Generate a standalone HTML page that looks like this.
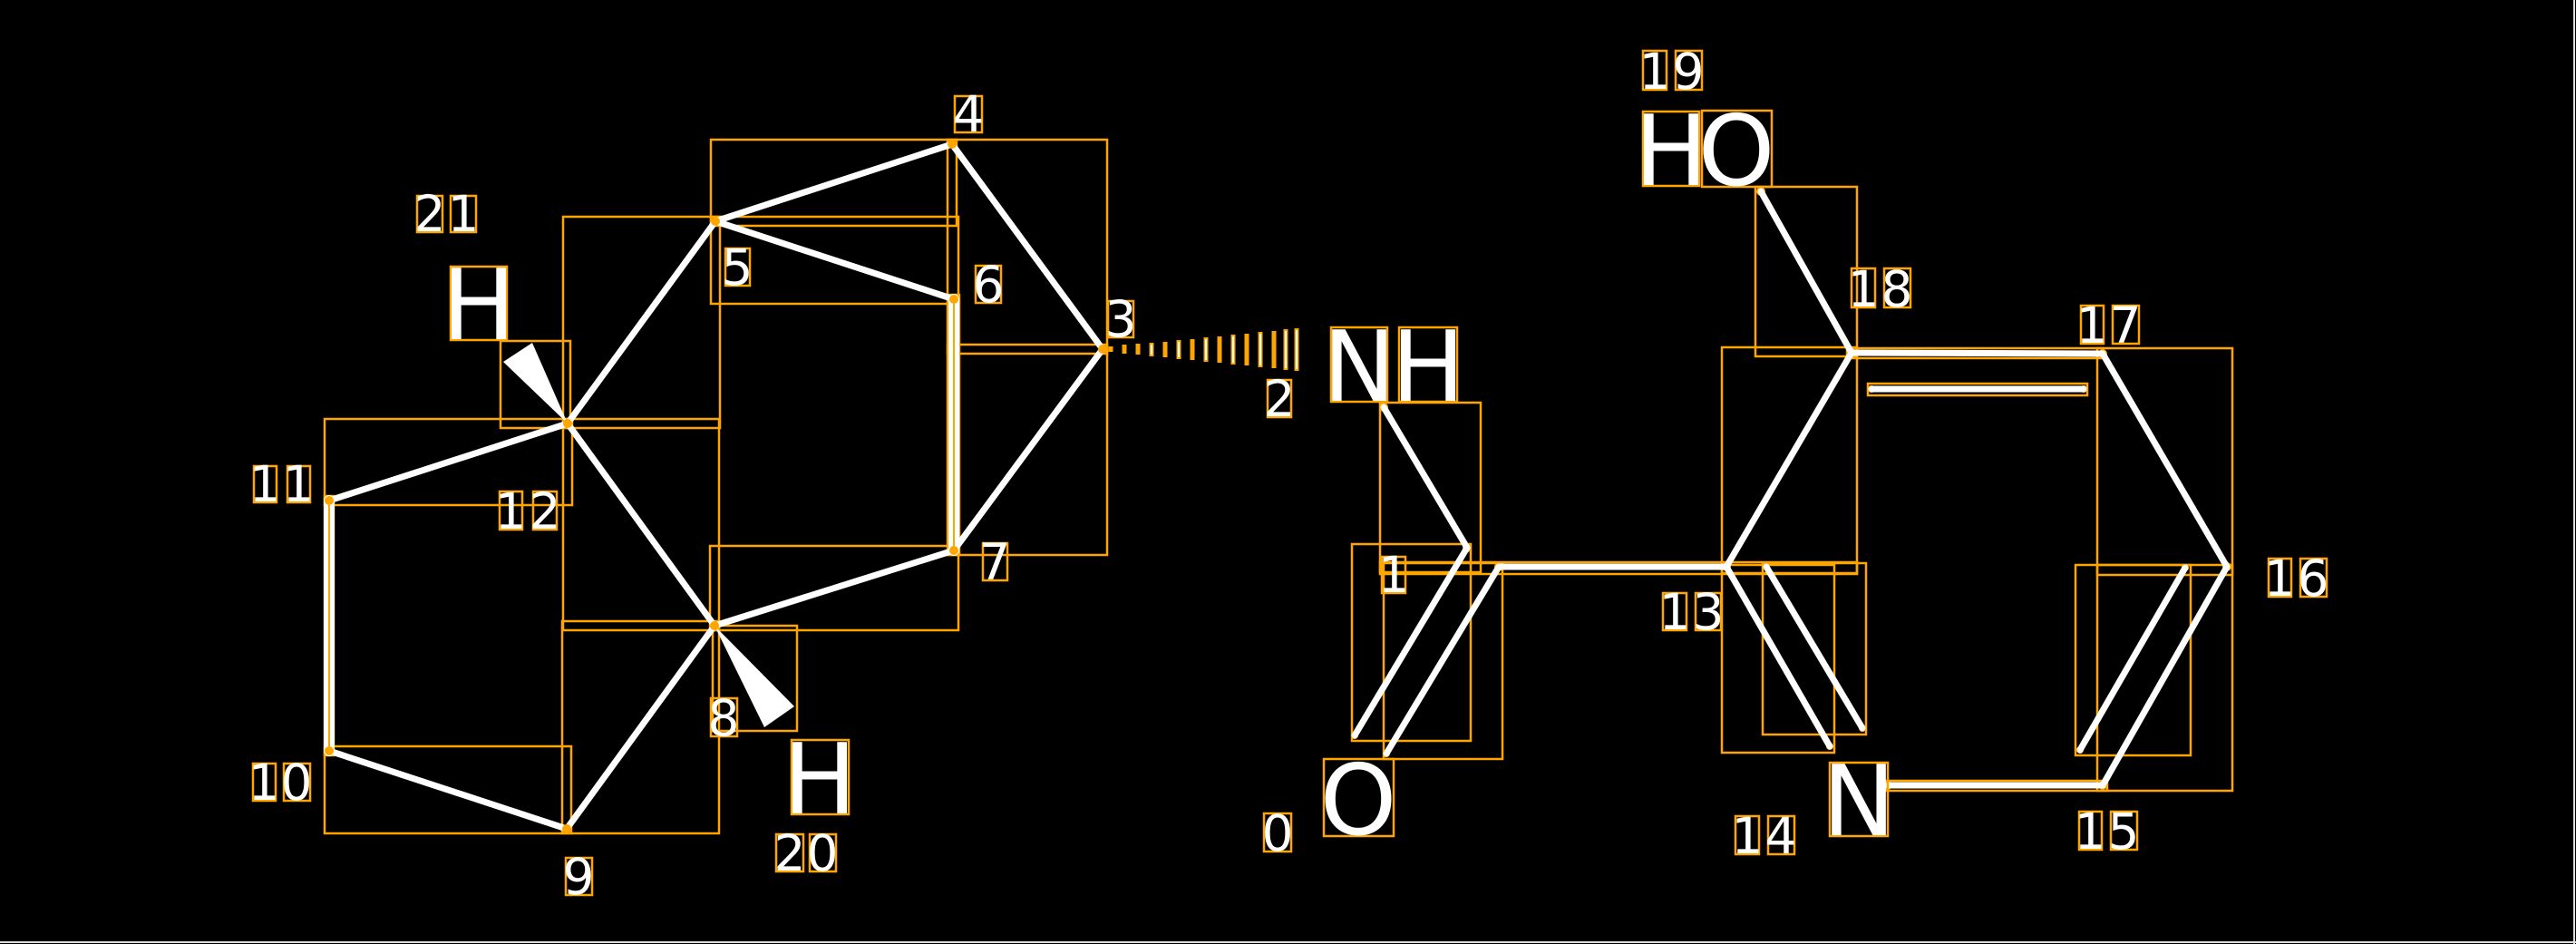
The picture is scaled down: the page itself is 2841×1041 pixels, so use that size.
<!DOCTYPE html>
<html><head><meta charset="utf-8"><style>
html,body{margin:0;padding:0;background:#000;}
svg{display:block;}
text{font-family:"DejaVu Sans","Liberation Sans",sans-serif;fill:#fff;}
.b{stroke:#fff;stroke-width:7;stroke-linecap:round;fill:none;}
.r{fill:none;stroke:#FFA500;stroke-width:2.5;}
.d{font-size:55px;text-anchor:middle;}
.a{font-size:108px;text-anchor:middle;}
.n{fill:#FFA500;}
</style></head><body>
<svg width="2841" height="1041" viewBox="0 0 2841 1041" xmlns="http://www.w3.org/2000/svg">
<rect x="0" y="0" width="2841" height="1041" fill="#000"/>
<line x1="0" y1="1039" x2="2841" y2="1039" stroke="#ddd" stroke-width="2"/>
<line x1="2839" y1="0" x2="2839" y2="1041" stroke="#ddd" stroke-width="2"/>
<g class="r">
<rect x="784" y="154" width="271" height="95"/>
<rect x="784" y="239" width="273" height="96"/>
<rect x="1045" y="154" width="176" height="236"/>
<rect x="1045" y="380" width="176" height="232"/>
<rect x="1046" y="325" width="12" height="287"/>
<rect x="621" y="239" width="173" height="233"/>
<rect x="358" y="462" width="273" height="95"/>
<rect x="621" y="462" width="172" height="233"/>
<rect x="783" y="602" width="274" height="93"/>
<rect x="620" y="685" width="173" height="234"/>
<rect x="358" y="547" width="10" height="286"/>
<rect x="358" y="823" width="272" height="96"/>
<rect x="552" y="376" width="77" height="96"/>
<rect x="786" y="690" width="93" height="116"/>
</g>
<g class="b">
<line x1="1050" y1="159" x2="789" y2="244"/>
<line x1="789" y1="244" x2="1052" y2="330"/>
<line x1="1050" y1="159" x2="1216" y2="385"/>
<line x1="1216" y1="385" x2="1052" y2="607"/>
<line x1="1052" y1="330" x2="1052" y2="607" stroke-width="12"/>
<line x1="789" y1="244" x2="626" y2="467"/>
<line x1="626" y1="467" x2="363" y2="552"/>
<line x1="626" y1="467" x2="788" y2="690"/>
<line x1="788" y1="690" x2="1052" y2="607"/>
<line x1="788" y1="690" x2="625" y2="914"/>
<line x1="363" y1="552" x2="363" y2="828" stroke-width="12"/>
<line x1="363" y1="828" x2="625" y2="914"/>
</g>
<line x1="1052" y1="335" x2="1052" y2="602" stroke="#FFA500" stroke-width="2"/>
<line x1="363" y1="557" x2="363" y2="823" stroke="#FFA500" stroke-width="2"/>
<polygon points="626,467 555,399 587,378" fill="#fff"/>
<polygon points="788,690 843,802 876,779" fill="#fff"/>
<g class="n">
<circle cx="1050" cy="159" r="5"/><circle cx="789" cy="244" r="5"/><circle cx="1052" cy="330" r="5"/><circle cx="1216" cy="385" r="5"/><circle cx="1052" cy="607" r="5"/><circle cx="626" cy="467" r="5"/><circle cx="788" cy="690" r="5"/><circle cx="363" cy="552" r="5"/><circle cx="363" cy="828" r="5"/><circle cx="625" cy="914" r="5"/>
<circle cx="1526" cy="449" r="5"/><circle cx="1618" cy="604" r="5"/><circle cx="1653" cy="625" r="5"/><circle cx="1904" cy="625" r="5"/><circle cx="2042" cy="389" r="5"/><circle cx="1942" cy="211" r="5"/><circle cx="2319" cy="390" r="5"/><circle cx="2456" cy="625" r="5"/><circle cx="2319" cy="866" r="5"/><circle cx="2082" cy="866" r="5"/><circle cx="1494" cy="811" r="4"/><circle cx="1529" cy="831" r="4"/><circle cx="2018" cy="823" r="4"/><circle cx="2054" cy="803" r="4"/><circle cx="2294" cy="827" r="4"/><circle cx="2410" cy="626" r="4"/><circle cx="2064" cy="429" r="4"/><circle cx="2298" cy="429" r="4"/>
</g>
<g stroke="#FFA500" stroke-width="5">
<line x1="1225" y1="382" x2="1225" y2="388"/>
<line x1="1240" y1="380" x2="1240" y2="390"/>
<line x1="1255" y1="379" x2="1255" y2="391"/>
<line x1="1270" y1="378" x2="1270" y2="393"/>
<line x1="1285" y1="377" x2="1285" y2="394"/>
<line x1="1300" y1="375" x2="1300" y2="396"/>
<line x1="1315" y1="374" x2="1315" y2="397"/>
<line x1="1330" y1="372" x2="1330" y2="399"/>
<line x1="1345" y1="371" x2="1345" y2="400"/>
<line x1="1360" y1="369" x2="1360" y2="402"/>
<line x1="1375" y1="368" x2="1375" y2="403"/>
<line x1="1390" y1="366" x2="1390" y2="405"/>
<line x1="1405" y1="365" x2="1405" y2="406"/>
<line x1="1418" y1="363" x2="1418" y2="408"/>
<line x1="1430" y1="362" x2="1430" y2="409"/>
</g>
<g stroke="#fff" stroke-width="2">
<line x1="1270" y1="380" x2="1270" y2="391"/><line x1="1300" y1="377" x2="1300" y2="394"/><line x1="1330" y1="374" x2="1330" y2="397"/><line x1="1360" y1="371" x2="1360" y2="400"/><line x1="1390" y1="368" x2="1390" y2="403"/><line x1="1418" y1="365" x2="1418" y2="406"/><line x1="1430" y1="364" x2="1430" y2="407"/>
</g>
<g class="r">
<rect x="1522" y="444" width="111" height="187"/>
<rect x="1491" y="600" width="131" height="217"/>
<rect x="1526" y="621" width="131" height="216"/>
<rect x="1522" y="620" width="526" height="13"/>
<rect x="1936" y="206" width="112" height="187"/>
<rect x="1899" y="383" width="149" height="249"/>
<rect x="2037" y="384" width="282" height="11"/>
<rect x="2060" y="423" width="242" height="13"/>
<rect x="2313" y="384" width="149" height="250"/>
<rect x="2313" y="623" width="149" height="249"/>
<rect x="2289" y="623" width="127" height="210"/>
<rect x="1899" y="623" width="124" height="207"/>
<rect x="1944" y="621" width="114" height="189"/>
<rect x="2080" y="861" width="244" height="11"/>
</g>
<g class="b">
<line x1="1526" y1="449" x2="1618" y2="604"/>
<line x1="1618" y1="604" x2="1494" y2="811"/>
<line x1="1653" y1="625" x2="1529" y2="831"/>
<line x1="1653" y1="625" x2="1904" y2="625"/>
<line x1="1942" y1="211" x2="2042" y2="389"/>
<line x1="1904" y1="625" x2="2042" y2="389"/>
<line x1="2042" y1="389" x2="2319" y2="390"/>
<line x1="2064" y1="429" x2="2298" y2="429"/>
<line x1="2319" y1="390" x2="2456" y2="625"/>
<line x1="2456" y1="625" x2="2319" y2="866"/>
<line x1="2410" y1="626" x2="2294" y2="827"/>
<line x1="2082" y1="866" x2="2319" y2="866"/>
<line x1="1904" y1="625" x2="2018" y2="823"/>
<line x1="1948" y1="625" x2="2054" y2="803"/>
</g>
<g class="r">
<rect x="497" y="294" width="62" height="81"/>
<rect x="873" y="816" width="63" height="82"/>
<rect x="1468" y="361" width="62" height="82"/>
<rect x="1543" y="361" width="64" height="82"/>
<rect x="1460" y="837" width="77" height="85"/>
<rect x="1812" y="123" width="62" height="82"/>
<rect x="1877" y="122" width="77" height="84"/>
<rect x="2018" y="841" width="64" height="81"/>
</g>
<text class="a" x="528" y="374">H</text>
<text class="a" x="904" y="897">H</text>
<text class="a" x="1499" y="442">N</text>
<text class="a" x="1575" y="442">H</text>
<text class="a" x="1498" y="920">O</text>
<text class="a" x="1843" y="204">H</text>
<text class="a" x="1915" y="204">O</text>
<text class="a" x="2050" y="921">N</text>
<g class="r">
<rect x="460" y="216" width="28" height="40"/><rect x="497" y="216" width="28" height="40"/>
<rect x="280" y="514" width="25" height="40"/><rect x="317" y="514" width="25" height="40"/>
<rect x="551" y="542" width="25" height="42"/><rect x="588" y="542" width="26" height="42"/>
<rect x="279" y="842" width="25" height="41"/><rect x="313" y="842" width="29" height="41"/>
<rect x="624" y="946" width="29" height="41"/>
<rect x="784" y="770" width="29" height="42"/>
<rect x="856" y="920" width="30" height="41"/><rect x="893" y="920" width="29" height="41"/>
<rect x="1053" y="106" width="30" height="40"/>
<rect x="800" y="274" width="27" height="41"/>
<rect x="1076" y="293" width="28" height="41"/>
<rect x="1222" y="332" width="28" height="40"/>
<rect x="1084" y="599" width="27" height="41"/>
<rect x="1394" y="897" width="30" height="42"/>
<rect x="1524" y="614" width="26" height="40"/>
<rect x="1398" y="419" width="26" height="41"/>
<rect x="1812" y="56" width="26" height="43"/><rect x="1848" y="56" width="29" height="43"/>
<rect x="2042" y="296" width="26" height="43"/><rect x="2078" y="296" width="29" height="43"/>
<rect x="2295" y="337" width="25" height="42"/><rect x="2330" y="337" width="29" height="42"/>
<rect x="2502" y="616" width="25" height="42"/><rect x="2537" y="616" width="29" height="42"/>
<rect x="2293" y="895" width="25" height="42"/><rect x="2328" y="895" width="29" height="42"/>
<rect x="1914" y="900" width="26" height="42"/><rect x="1950" y="900" width="29" height="42"/>
<rect x="1834" y="654" width="26" height="41"/><rect x="1870" y="654" width="28" height="41"/>
</g>
<g class="d">
<text x="474" y="255">2</text><text x="511" y="255">1</text>
<text x="292" y="553">1</text><text x="329" y="553">1</text>
<text x="563" y="583">1</text><text x="601" y="583">2</text>
<text x="291" y="882">1</text><text x="327" y="882">0</text>
<text x="638" y="986">9</text>
<text x="798" y="811">8</text>
<text x="871" y="960">2</text><text x="907" y="960">0</text>
<text x="1068" y="145">4</text>
<text x="813" y="314">5</text>
<text x="1090" y="333">6</text>
<text x="1236" y="371">3</text>
<text x="1097" y="639">7</text>
<text x="1409" y="938">0</text>
<text x="1537" y="653">1</text>
<text x="1411" y="459">2</text>
<text x="1825" y="98">1</text><text x="1862" y="98">9</text>
<text x="2055" y="338">1</text><text x="2092" y="338">8</text>
<text x="2307" y="378">1</text><text x="2344" y="378">7</text>
<text x="2514" y="657">1</text><text x="2551" y="657">6</text>
<text x="2305" y="936">1</text><text x="2342" y="936">5</text>
<text x="1927" y="941">1</text><text x="1964" y="941">4</text>
<text x="1847" y="694">1</text><text x="1884" y="694">3</text>
</g>
</svg>
</body></html>
